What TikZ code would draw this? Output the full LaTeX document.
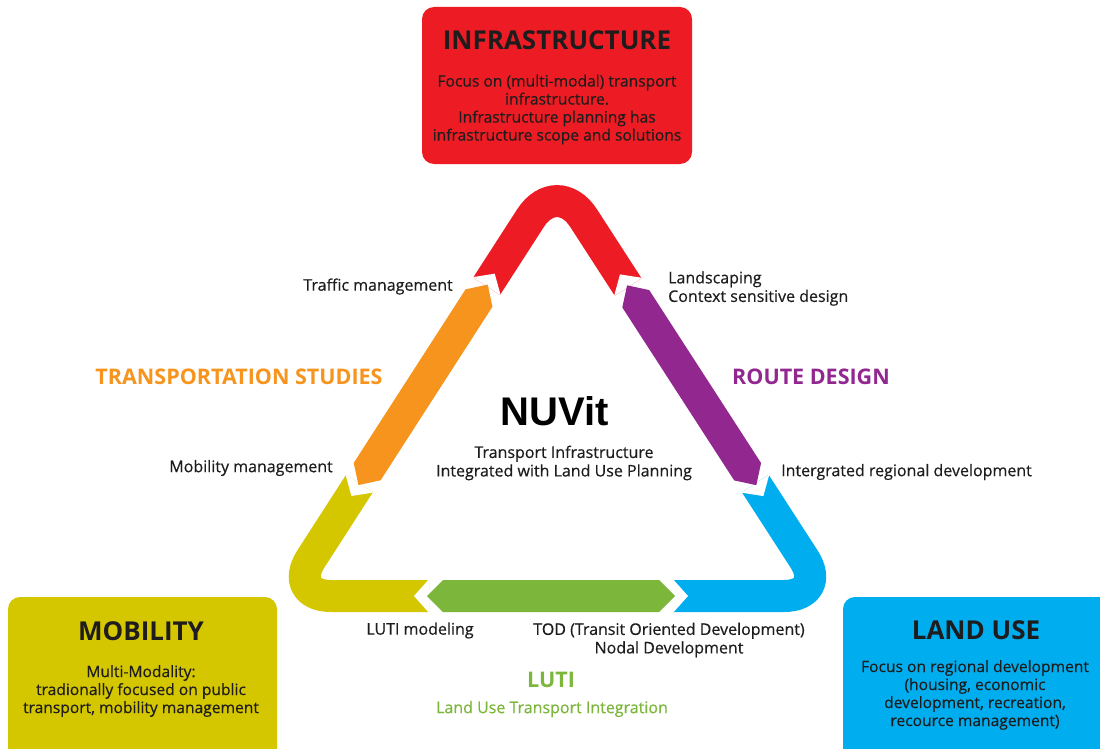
\documentclass[tikz,border=0pt]{standalone}
\usepackage{fontspec}
\setmainfont{Open Sans}
\newfontfamily\arialfont{Liberation Sans}
\newfontfamily\medfont[FakeBold=0.4]{Open Sans}
\usetikzlibrary{calc}
\definecolor{cRed}{RGB}{237,28,36}
\definecolor{cOrange}{RGB}{247,148,29}
\definecolor{cPurple}{RGB}{146,39,143}
\definecolor{cYellow}{RGB}{212,199,0}
\definecolor{cBlue}{RGB}{0,174,239}
\definecolor{cGreen}{RGB}{124,182,58}
\definecolor{cText}{RGB}{30,28,28}
\newcommand\mynotch[2]{%
  \fill[white] ($(#1)!16.8pt!90:(#2)$) -- ($(#1)!15pt!(#2)$) -- ($(#1)!16.8pt!-90:(#2)$) -- cycle;}
\newcommand\mybar[3]{%
  \coordinate (ba) at ($(#1)!16pt!(#2)$);
  \coordinate (bb) at ($(#2)!16pt!(#1)$);
  \fill[#3] (#1) -- ($(ba)!16pt!90:(#2)$) -- ($(bb)!16pt!-90:(#1)$) -- (#2)
     -- ($(bb)!16pt!90:(#1)$) -- ($(ba)!16pt!-90:(#2)$) -- cycle;}
\begin{document}
\begin{tikzpicture}[x=1pt,y=-1pt,
  band/.style={line width=32pt, line cap=butt},
  box/.style={rounded corners=12pt},
  boxtitle/.style={font=\fontsize{26}{30}\selectfont\bfseries, text=cText, inner sep=0pt},
  boxbody/.style={font=\medfont\fontsize{15.6}{18}\selectfont, text=cText, align=center, inner sep=0pt},
  lbl/.style={font=\medfont\fontsize{16}{18.5}\selectfont, text=cText, inner sep=0pt},
  side/.style={font=\fontsize{21.5}{24}\selectfont\bfseries, inner sep=0pt}]
\useasboundingbox (0,0) rectangle (1100,749);
\clip (0,0) rectangle (1100,749);
\fill[white] (0,0) rectangle (1100,749);

% boxes
\fill[cRed, box] (422,7) rectangle (692,164);
\fill[cYellow, box] (8,597) rectangle (277,765);
\fill[cBlue, box] (843,597) rectangle (1115,765);

% triangle centre line
\coordinate (T) at (557,177);
\coordinate (L) at (287,596);
\coordinate (R) at (828,596);

% chevron ends
\coordinate (redL) at ($(T)!130pt!(L)$);
\coordinate (redR) at ($(T)!131pt!(R)$);
\coordinate (yelT) at ($(L)!134pt!(T)$);
\coordinate (yelR) at ($(L)!142pt!(R)$);
\coordinate (bluL) at ($(R)!155pt!(L)$);
\coordinate (bluT) at ($(R)!134pt!(T)$);

\draw[band, cRed, rounded corners=49pt] (redL) -- (T) -- (redR);
\draw[band, cYellow, rounded corners=44pt] (yelT) -- (L) -- (yelR);
\draw[band, cBlue, rounded corners=44pt] (bluL) -- (R) -- (bluT);

\mynotch{redL}{T}
\mynotch{redR}{T}
\mynotch{yelT}{L}
\mynotch{yelR}{L}
\mynotch{bluL}{R}
\mynotch{bluT}{R}

% bars
\coordinate (orA) at ($(T)!128pt!(L)$);
\coordinate (orB) at ($(L)!132pt!(T)$);
\coordinate (puA) at ($(T)!129pt!(R)$);
\coordinate (puB) at ($(R)!132pt!(T)$);
\coordinate (grA) at ($(L)!140pt!(R)$);
\coordinate (grB) at ($(R)!153pt!(L)$);
\mybar{orA}{orB}{cOrange}
\mybar{puA}{puB}{cPurple}
\mybar{grA}{grB}{cGreen}

% box texts
\node[boxtitle] (infT) at (557,40) {INFRASTRUCTURE};
\node[boxbody] (infB) at (557,109.5) {Focus on (multi-modal) transport\\infrastructure.\\Infrastructure planning has\\infrastructure scope and solutions};
\node[boxtitle] (mobT) at (141,631) {MOBILITY};
\node[boxbody] (mobB) at (141,691) {Multi-Modality:\\tradionally focused on public\\transport, mobility management};
\node[boxtitle] (lanT) at (976,630) {LAND USE};
\node[boxbody] (lanB) at (975,695) {Focus on regional development\\(housing, economic\\development, recreation,\\recource management)};

% centre
\node[font=\arialfont\fontsize{40}{44}\selectfont\bfseries, inner sep=0pt] (nuv) at (555,411) {NUVit};
\node[lbl, align=center] (sub) at (564,463) {Transport Infrastructure\\Integrated with Land Use Planning};

% side labels
\node[side, text=cOrange] (ts) at (239,377) {TRANSPORTATION STUDIES};
\node[side, text=cPurple] (rd) at (811,377) {ROUTE DESIGN};
\node[side, text=cGreen] (luti) at (551,680) {LUTI};
\node[lbl, text=cGreen] (lutiS) at (552,709) {Land Use Transport Integration};

% small labels
\node[lbl, anchor=east] (traf) at (453,286.5) {Traffic management};
\node[lbl, anchor=west, align=left] (land) at (668,288.5) {Landscaping\\Context sensitive design};
\node[lbl, anchor=east] (mob) at (333,468) {Mobility management};
\node[lbl, anchor=west] (irp) at (781,472) {Intergrated regional development};
\node[lbl] (lmod) at (420,630.5) {LUTI modeling};
\node[lbl, align=center] (tod) at (669,640) {TOD (Transit Oriented Development)\\Nodal Development};
\end{tikzpicture}
\end{document}
